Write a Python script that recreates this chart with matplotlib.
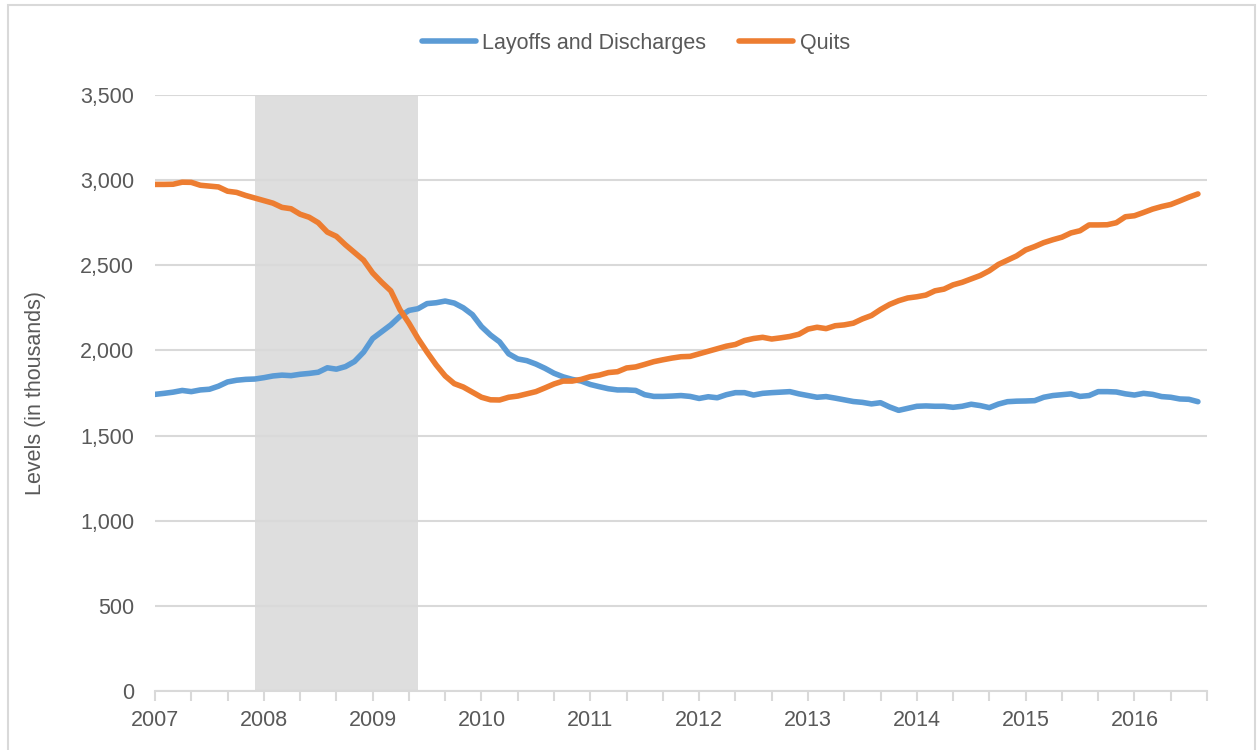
import numpy as np
import matplotlib
matplotlib.use("Agg")
import matplotlib.pyplot as plt
from matplotlib.patches import Rectangle
from matplotlib.ticker import FuncFormatter

# monthly levels, Jan 2007 .. Aug 2016 (thousands)
layoffs = [
    1742, 1748, 1755, 1765, 1758, 1768, 1772, 1790, 1815, 1825, 1830, 1832,
    1840, 1850, 1855, 1852, 1860, 1865, 1872, 1898, 1890, 1905, 1935, 1990,
    2070, 2110, 2150, 2200, 2235, 2245, 2275, 2280, 2290, 2278, 2250, 2210,
    2140, 2090, 2050, 1980, 1950, 1940, 1920, 1895, 1866, 1845, 1830, 1820,
    1800, 1787, 1775, 1768, 1768, 1765, 1740, 1730, 1730, 1732, 1735, 1730,
    1718, 1728, 1722, 1740, 1752, 1752, 1738, 1748, 1752, 1755, 1758, 1745,
    1735, 1725, 1729, 1720, 1710, 1700, 1695, 1686, 1693, 1668, 1648, 1660,
    1672, 1674, 1672, 1672, 1666, 1672, 1684, 1676, 1664, 1685, 1699, 1702,
    1703, 1705, 1725, 1735, 1740, 1745, 1730, 1735, 1758, 1758, 1756, 1745,
    1738, 1748, 1742, 1729, 1725, 1715, 1713, 1699,
]
quits = [
    2975, 2975, 2976, 2988, 2987, 2970, 2965, 2960, 2935, 2928, 2910, 2895,
    2880, 2865, 2840, 2832, 2800, 2782, 2750, 2695, 2670, 2620, 2575, 2530,
    2455, 2400, 2350, 2240, 2160, 2070, 1990, 1915, 1850, 1805, 1785, 1755,
    1725, 1710, 1709, 1725, 1732, 1745, 1758, 1780, 1803, 1820, 1820, 1830,
    1846, 1855, 1870, 1875, 1897, 1903, 1918, 1934, 1945, 1955, 1963, 1965,
    1980, 1995, 2010, 2025, 2035, 2058, 2070, 2077, 2067, 2074, 2082, 2095,
    2125, 2136, 2128, 2145, 2150, 2160, 2185, 2205, 2240, 2270, 2292, 2308,
    2315, 2325, 2350, 2360, 2385, 2400, 2420, 2440, 2468, 2505, 2530, 2555,
    2590, 2610, 2633, 2650, 2665, 2690, 2703, 2737, 2737, 2738, 2750, 2785,
    2791, 2810, 2830, 2845, 2857, 2878, 2900, 2919,
]
years = ["2007", "2008", "2009", "2010", "2011", "2012", "2013", "2014", "2015", "2016"]
recession = (11, 29)  # Dec 2007 .. Jun 2009, month index

plt.rcParams['font.family'] = ['Liberation Sans', 'DejaVu Sans']
txt = '#595959'
grid = '#D9D9D9'
fs = 15.5

fig = plt.figure(figsize=(12.59, 7.5), dpi=100)
# chart frame
fig.patches.append(Rectangle((8 / 1259, -0.05), 1247 / 1259, 1.05 - 5 / 750,
                             transform=fig.transFigure, fill=False,
                             edgecolor=grid, linewidth=1.5))

ax = fig.add_axes([155 / 1259, 1 - 691 / 750, 1052 / 1259, 596 / 750])
x = np.arange(len(layoffs))

ax.axvspan(*recession, color='#DEDEDE', zorder=0.2, lw=0)
ax.plot(x, layoffs, color='#5B9BD5', lw=4, solid_capstyle='round', label='Layoffs and Discharges')
ax.plot(x, quits, color='#ED7D31', lw=4, solid_capstyle='round', label='Quits')

ax.set_ylim(0, 3500)
ax.set_xlim(0, 116)
ax.set_yticks(range(0, 3501, 500))
ax.yaxis.set_major_formatter(FuncFormatter(lambda v, p: f"{int(v):,}"))
ticks = list(range(0, 117, 4))
ax.set_xticks(ticks)
ax.set_xticklabels([years[t // 12] if t % 12 == 0 and t // 12 < len(years) else "" for t in ticks])

ax.set_axisbelow(True)
ax.grid(axis='y', color=grid, lw=1.5)
for s in ['top', 'right', 'left']:
    ax.spines[s].set_visible(False)
ax.spines['bottom'].set_color(grid)
ax.spines['bottom'].set_linewidth(1.5)
ax.tick_params(axis='y', length=0, pad=15, labelsize=fs, labelcolor=txt)
ax.tick_params(axis='x', length=7, width=1.5, color=grid, pad=7, labelsize=fs, labelcolor=txt)

ax.set_ylabel('Levels (in thousands)', fontsize=fs, color=txt)
ax.yaxis.set_label_coords(-0.104, 0.5)

fig.legend(*ax.get_legend_handles_labels(), loc='center', bbox_to_anchor=(0.505, 1 - 43 / 750),
           ncol=2, frameon=False, fontsize=fs, labelcolor=txt, handlelength=2.5,
           handletextpad=0.3, columnspacing=1.55)

fig.savefig('out.png', dpi=100)
